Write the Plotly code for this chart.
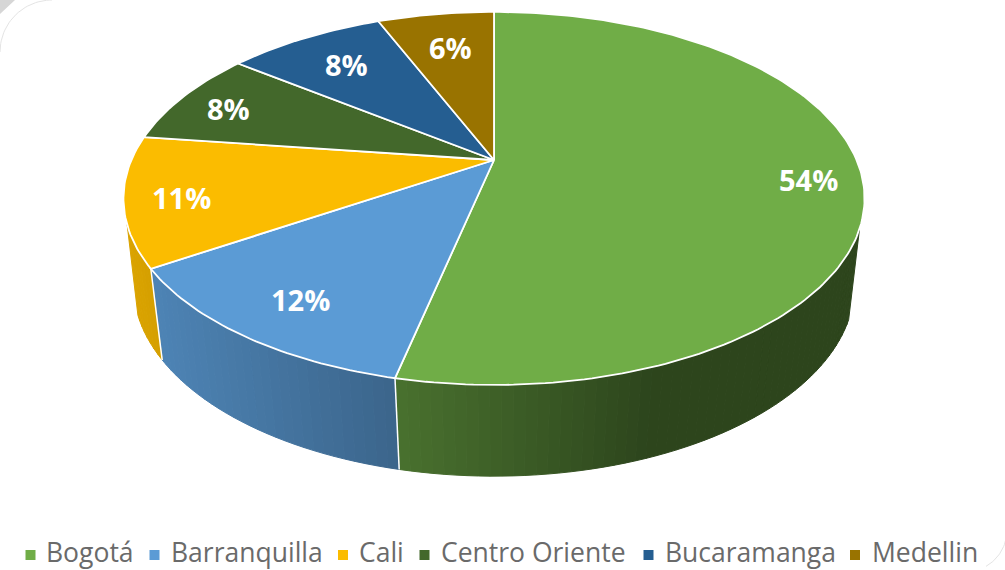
import numpy as np
import plotly.graph_objects as go

categories = ["Bogotá", "Barranquilla", "Cali", "Centro Oriente", "Bucaramanga", "Medellin"]
values = [53.5, 12.4, 11.2, 8.3, 8.4, 6.2]
colors = ["#70AD47", "#5B9BD5", "#FBBC00", "#43682B", "#255E91", "#997300"]
percent_labels = [f"{round(v + 0.001)}%" for v in values]

# layout of text (pixels)
label_x = [808, 300, 181, 228, 346, 450]
label_y = [179, 299, 197, 108, 64, 47]
legend_swatch_x = [30.5, 154.5, 343, 424.5, 648.5, 855]
legend_text_x = [46, 171, 359, 441, 665, 872]
legend_swatch_y = 555
legend_text_y = 551.5

# projection of the pie disc onto the page
CX = 494.0
TOP = dict(y0=160.0, d=362.6, b=178.6, c=0.206)
BOT = dict(y0=249.0, d=354.0, b=184.0, c=0.19)
SIDE_START, SIDE_END = 111.0, 250.3


def project(theta_deg, p, r=1.0):
    t = np.radians(theta_deg)
    u, v = r * np.sin(t), r * np.cos(t)
    w = 1 + p["c"] * v
    return CX + p["d"] * u / w, p["y0"] - p["b"] * v / w


def shade(hex_color, x):
    f = np.interp(x, [130, 400, 650, 870], [0.87, 0.65, 0.40, 0.40])
    rgb = [int(hex_color[i:i + 2], 16) for i in (1, 3, 5)]
    return "rgb({},{},{})".format(*[int(round(ch * f)) for ch in rgb])


edges = 360.0 * np.concatenate([[0], np.cumsum(values)]) / sum(values)
fig = go.Figure()

# faint rounded frame of the picture in two corners
a = np.linspace(180, 270, 30)
fig.add_trace(go.Scatter(x=52 + 52 * np.cos(np.radians(a)), y=52 + 52 * np.sin(np.radians(a)), mode="lines",
                         line=dict(color="#e4e4e4", width=1), hoverinfo="skip", showlegend=False))
a = np.linspace(10, 60, 20)
fig.add_trace(go.Scatter(x=965 + 42 * np.cos(np.radians(a)), y=530 + 42 * np.sin(np.radians(a)), mode="lines",
                         line=dict(color="#e4e4e4", width=1), hoverinfo="skip", showlegend=False))
fig.add_trace(go.Scatter(x=[0, 15, 0, 0], y=[0, 0, 14, 0], mode="lines", fill="toself",
                         fillcolor="#d6d6d6", line=dict(width=0), hoverinfo="skip", showlegend=False))

# side wall: thin shaded strips
for i, col in enumerate(colors):
    lo, hi = max(edges[i], SIDE_START), min(edges[i + 1], SIDE_END)
    if hi <= lo:
        continue
    n = max(2, int((hi - lo) / 1.5))
    th = np.linspace(lo, hi, n + 1)
    for t0, t1 in zip(th[:-1], th[1:]):
        x0, y0 = project(t0, TOP)
        x1, y1 = project(t1, TOP)
        x2, y2 = project(t1, BOT)
        x3, y3 = project(t0, BOT)
        c = shade(col, (x0 + x1 + x2 + x3) / 4)
        fig.add_trace(go.Scatter(x=[x0, x1, x2, x3, x0], y=[y0, y1, y2, y3, y0], mode="lines", fill="toself",
                                 fillcolor=c, line=dict(color=c, width=1), hoverinfo="skip", showlegend=False))

# white separators on the wall
for e in edges:
    if SIDE_START < e < SIDE_END:
        x0, y0 = project(e, TOP)
        x1, y1 = project(e, BOT)
        fig.add_trace(go.Scatter(x=[x0, x1], y=[y0, y1], mode="lines", line=dict(color="white", width=1.5),
                                 hoverinfo="skip", showlegend=False))

# top face
for i, (name, col) in enumerate(zip(categories, colors)):
    th = np.linspace(edges[i], edges[i + 1], max(3, int(edges[i + 1] - edges[i]) + 1))
    xs, ys = project(th, TOP)
    xs = np.concatenate([[CX], xs, [CX]])
    ys = np.concatenate([[TOP["y0"]], ys, [TOP["y0"]]])
    fig.add_trace(go.Scatter(x=xs, y=ys, mode="lines", fill="toself", fillcolor=col, name=name,
                             line=dict(color="white", width=1.8), showlegend=False,
                             hovertemplate=f"{name}: {percent_labels[i]}<extra></extra>"))

# legend swatches
fig.add_trace(go.Scatter(x=legend_swatch_x, y=[legend_swatch_y] * len(categories), mode="markers",
                         marker=dict(symbol="square", size=10, color=colors, line=dict(width=0)),
                         hoverinfo="skip", showlegend=False))

annotations = []
for x, y, t in zip(label_x, label_y, percent_labels):
    annotations.append(dict(x=x, y=y, text=f"<b>{t}</b>", showarrow=False, xanchor="center", yanchor="middle",
                            font=dict(family="Open Sans", size=29, color="white")))
for x, t in zip(legend_text_x, categories):
    annotations.append(dict(x=x, y=legend_text_y, text=t, showarrow=False, xanchor="left", yanchor="middle",
                            xshift=-2, font=dict(family="Open Sans", size=26.5, color="#6a6a6a")))

fig.update_layout(
    width=1005, height=570, margin=dict(l=0, r=0, t=0, b=0),
    paper_bgcolor="white", plot_bgcolor="white", showlegend=False,
    xaxis=dict(range=[0, 1005], visible=False, fixedrange=True),
    yaxis=dict(range=[570, 0], visible=False, fixedrange=True),
    annotations=annotations,
)
fig.write_html("out.html", config=dict(displayModeBar=False),
               post_script="document.body.style.margin='0';document.documentElement.style.overflow='hidden';")
